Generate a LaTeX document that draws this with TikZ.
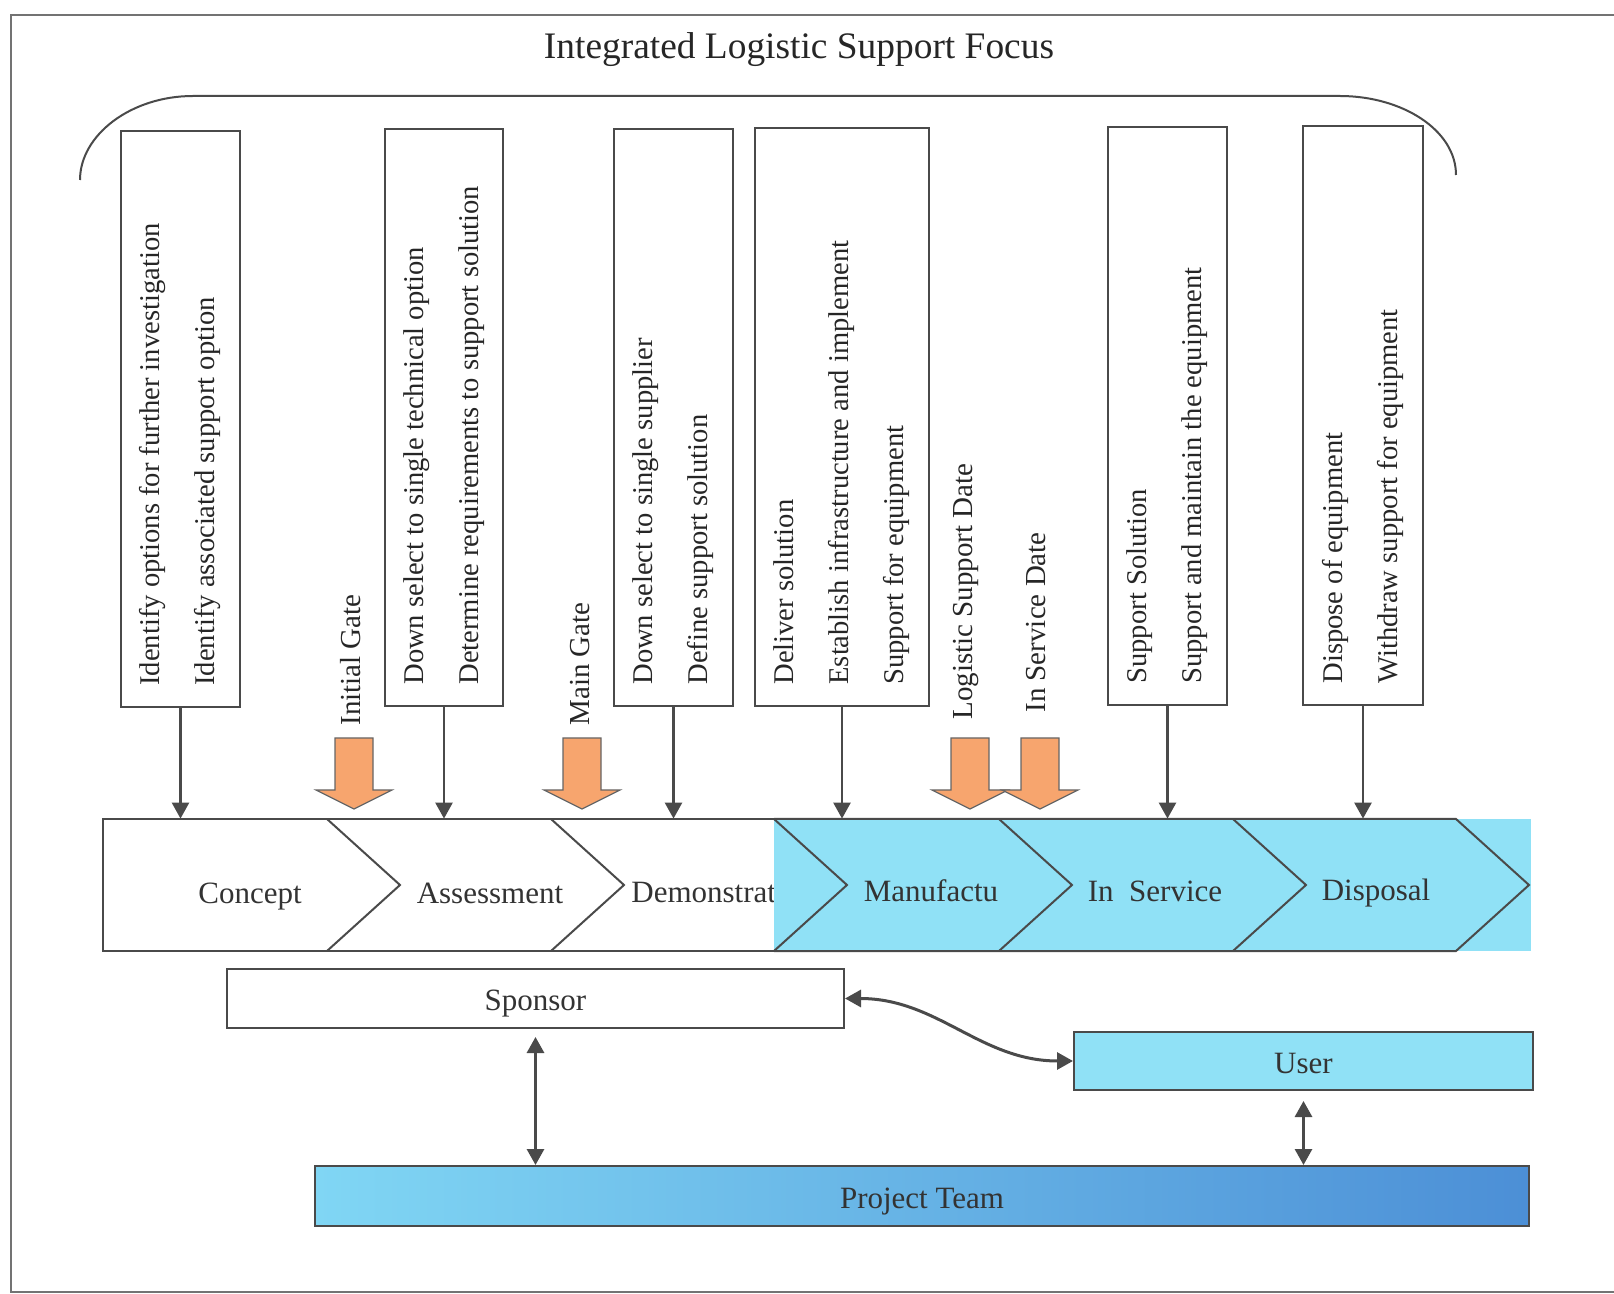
\documentclass[tikz,border=0pt]{standalone}
\usepackage{fontspec}
\setmainfont{Liberation Serif}
\usetikzlibrary{positioning,arrows.meta,fit}
\definecolor{PhaseBlue}{HTML}{90E1F6}
\definecolor{TeamLeft}{HTML}{80D6F4}
\definecolor{TeamRight}{HTML}{4C8FD6}
\definecolor{GateOrange}{HTML}{F7A56E}
\definecolor{LineGrey}{HTML}{4A4A4A}

\begin{document}
\begin{tikzpicture}[x=0.5pt, y=-0.5pt,
      actbox/.style={draw=LineGrey, line width=1pt, inner sep=0pt},
      vtext/.style={rotate=90, anchor=west, align=left, inner sep=0pt,
                    font=\fontsize{14.3}{27.5}\selectfont, text=black!85},
      gtext/.style={rotate=90, anchor=west, inner sep=0pt,
                    font=\fontsize{14.5}{18}\selectfont, text=black!85},
      phase/.style={font=\fontsize{15.5}{18}\selectfont, text=black!80, inner sep=0pt,
                    anchor=base},
      party/.style={draw=LineGrey, line width=1pt, inner sep=0pt, text height=12pt,
                    text depth=0pt, font=\fontsize{15.5}{18}\selectfont, text=black!80},
      band/.style={draw=LineGrey, line width=1pt, line join=miter},
      gatearrow/.style={draw=black!60, line width=0.6pt, fill=GateOrange},
      ar/.style={-{Triangle[length=8pt,width=8.5pt]}, line width=1.3pt, draw=LineGrey},
      dar/.style={{Triangle[length=8pt,width=8.5pt]}-{Triangle[length=8pt,width=8.5pt]},
                  line width=1.5pt, draw=LineGrey},
    ]
      \useasboundingbox (0,0) rectangle (1614,1294);
      \draw[black!55, line width=1.2pt] (1614,15) -- (11,15) -- (11,1292) -- (1614,1292);

      \node[font=\fontsize{18.7}{22}\selectfont, text=black!85] (title) at (799,50)
            {Integrated Logistic Support Focus};
      \draw[LineGrey, line width=1pt] (80,180) .. controls (80,135) and (131,96) .. (193,96)
            -- (1340,96) .. controls (1402,96) and (1456,130) .. (1456,175);

      % activity boxes
      \node[actbox, fit={(121,131) (240,707)}] (b1) {};
      \node[actbox, fit={(385,129) (503,706)}] (b2) {};
      \node[actbox, fit={(614,129) (733,706)}] (b3) {};
      \node[actbox, fit={(755,128) (929,706)}] (b4) {};
      \node[actbox, fit={(1108,127) (1227,705)}] (b5) {};
      \node[actbox, fit={(1303,126) (1423,705)}] (b6) {};
      \node[vtext] (t1) at ([yshift=11pt]b1.south)
            {Identify options for further investigation\\Identify associated support option};
      \node[vtext] (t2) at ([yshift=11pt]b2.south)
            {Down select to single technical option\\Determine requirements to support solution};
      \node[vtext] (t3) at ([yshift=11pt]b3.south)
            {Down select to single supplier\\Define support solution};
      \node[vtext] (t4) at ([yshift=11pt]b4.south)
            {Deliver solution\\Establish infrastructure and implement\\Support for equipment};
      \node[vtext] (t5) at ([yshift=11pt]b5.south)
            {Support Solution\\Support and maintain the equipment};
      \node[vtext] (t6) at ([yshift=11pt]b6.south)
            {Dispose of equipment\\Withdraw support for equipment};

      % gates
      \foreach \cx in {354,582,970,1040}
        \draw[gatearrow] (\cx-19,738) -- (\cx+19,738) -- (\cx+19,790) -- (\cx+38,790)
              -- (\cx,809) -- (\cx-38,790) -- (\cx-19,790) -- cycle;
      \node[gtext] (ig) at (351,726) {Initial Gate};
      \node[gtext] (mg) at (580,726) {Main Gate};
      \node[gtext] (lsd) at (966,720) {Logistic Support Date};
      \node[gtext] (isd) at (1036,713) {In Service Date};

      % phase band
      \node[inner sep=0pt, fit={(103,819) (1531,951)}] (band) {};
      \draw[band] (774,819) -- (103,819) -- (103,951) -- (774,951);
      \draw[band] (327,819) -- (400,885) -- (327,951);
      \draw[band] (551,819) -- (624,885) -- (551,951);
      \node[phase] (concept) at (250,903) {Concept};
      \node[phase] (assess) at (490,903) {Assessment};
      \node[phase, anchor=base west] (demo) at (631,902) {Demonstrat};
      \fill[PhaseBlue] (774,819) rectangle (1531,951);
      \draw[band] (774,819) -- (1456,819) -- (1529,885) -- (1456,951) -- (774,951);
      \draw[band] (774,819) -- (847,885) -- (774,951);
      \draw[band] (999,819) -- (1072,885) -- (999,951);
      \draw[band] (1233,819) -- (1306,885) -- (1233,951);
      \node[phase] (manuf) at (931,901) {Manufactu};
      \node[phase] (insvc) at (1155,901) {In\ \ Service};
      \node[phase] (disp) at (1376,900) {Disposal};

      \draw[ar] (b1.south) -- (b1.south |- band.north);
      \draw[ar] (b2.south) -- (b2.south |- band.north);
      \draw[ar] (b3.south) -- (b3.south |- band.north);
      \draw[ar] (b4.south) -- (b4.south |- band.north);
      \draw[ar] (b5.south) -- (b5.south |- band.north);
      \draw[ar] (b6.south) -- (b6.south |- band.north);

      % parties
      \node[party, fill=white, minimum width=308.5pt, minimum height=29.5pt]
            (spons) at (535.5,998.5) {Sponsor};
      \node[party, fill=PhaseBlue, minimum width=229.5pt, minimum height=29pt]
            (user) at (1303.5,1061) {User};
      \node[party, left color=TeamLeft, right color=TeamRight, minimum width=607pt,
            minimum height=30pt] (team) at (922,1196) {Project Team};
      \draw[dar] (spons.east) to[out=0, in=180] (user.west);
      \draw[dar, shorten <=4pt] (spons.south) -- (spons.south |- team.north);
      \draw[dar, shorten <=5pt] (user.south) -- (user.south |- team.north);
    \end{tikzpicture}
\end{document}
